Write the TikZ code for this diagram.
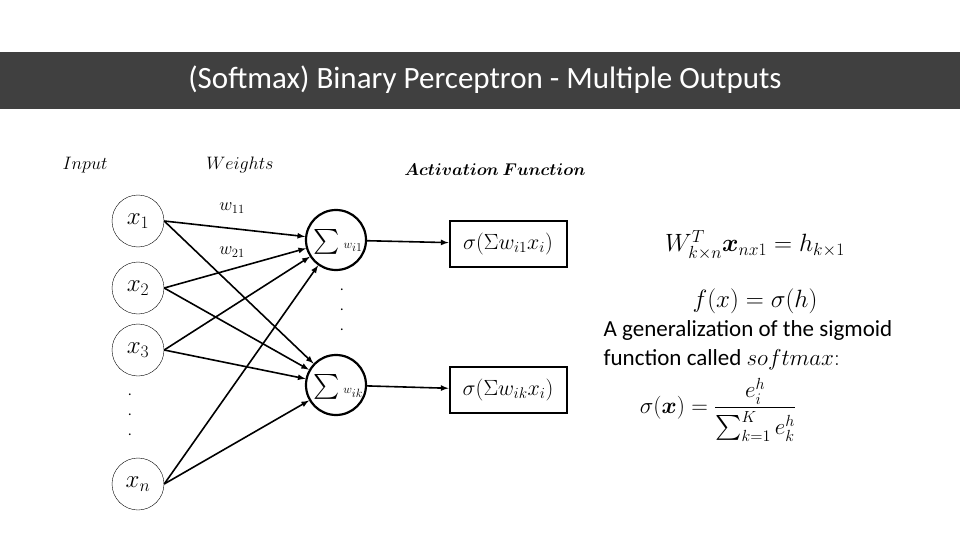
\RequirePackage{fix-cm}
\documentclass[tikz,border=0pt]{standalone}
\usepackage{amsmath,bm}
\usepackage{fontspec}
\setmainfont{Carlito}
\begin{document}
\begin{tikzpicture}[x=1pt,y=-1pt,
  inp/.style={circle,draw,thin,minimum size=52pt,inner sep=0pt,font=\fontsize{25}{27}\selectfont},
  sumn/.style={circle,draw,line width=2.2pt,minimum size=60pt,inner sep=0pt},
  actbox/.style={draw,line width=2pt,minimum width=117pt,minimum height=46pt,inner sep=0pt,font=\fontsize{22}{24}\selectfont},
  edge/.style={-latex,line width=1.6pt},
  dot/.style={font=\fontsize{14}{14}\selectfont}]
\useasboundingbox (0,0) rectangle (960,540);
\fill[white] (0,0) rectangle (960,540);
\fill[black!75] (0,52) rectangle (960,109);
\node[text=white,font=\fontsize{31}{34}\selectfont] (title) at (485,80) {(Softmax) Binary Perceptron - Multiple Outputs};
\node[font=\fontsize{18}{20}\selectfont] (lin) at (85,165) {$Input$};
\node[font=\fontsize{18}{20}\selectfont] (lw) at (240,165) {$Weights$};
\node[font=\fontsize{17}{19}\selectfont] (la) at (495,170) {$\bm{Activation\ Function}$};
\node[inp] (x1) at (138,221) {$x_1$};
\node[inp] (x2) at (138,288) {$x_2$};
\node[inp] (x3) at (138,350) {$x_3$};
\node[inp] (xn) at (138,484) {$x_n$};
\foreach \y [count=\i] in {395,415,435} \node[dot] (dl\i) at (130,\y) {.};
\node[sumn] (s1) at (336,240) {};
\node[sumn] (s2) at (336,385) {};
\node[font=\fontsize{24}{26}\selectfont] (s1t) at (338,242) {$\sum{\scriptscriptstyle w_{i1}}$};
\node[font=\fontsize{24}{26}\selectfont] (s2t) at (338,387) {$\sum{\scriptscriptstyle w_{ik}}$};
\foreach \y [count=\i] in {290,310,330} \node[dot] (dm\i) at (342,\y) {.};
\node[actbox] (a1) at (508,244) {$\sigma(\Sigma w_{i1}x_i)$};
\node[actbox] (a2) at (508,390) {$\sigma(\Sigma w_{ik}x_i)$};
\draw[edge] (s1) -- (a1);
\draw[edge] (s2) -- (a2);
\foreach \s in {x1,x2,x3,xn}{
  \draw[edge] (\s.east) -- (s1);
  \draw[edge] (\s.east) -- (s2);}
\node[font=\fontsize{18}{20}\selectfont] (w11) at (232,208) {$w_{11}$};
\node[font=\fontsize{18}{20}\selectfont] (w21) at (232,252) {$w_{21}$};
\node[font=\fontsize{25}{27}\selectfont] (f1) at (755,245) {$W^T_{k\times n}\bm{x}_{nx1}=h_{k\times1}$};
\node[font=\fontsize{25}{27}\selectfont] (f2) at (755,301) {$f(x)=\sigma(h)$};
\node[font=\fontsize{23}{29}\selectfont,align=left] (t) at (748,345) {A generalization of the sigmoid\\function called $softmax{:}$};
\node[font=\fontsize{23}{25}\selectfont] (f3) at (718,410) {$\sigma(\bm{x})=\dfrac{e_i^h}{\sum_{k=1}^{K}e_k^h}$};
\end{tikzpicture}
\end{document}
